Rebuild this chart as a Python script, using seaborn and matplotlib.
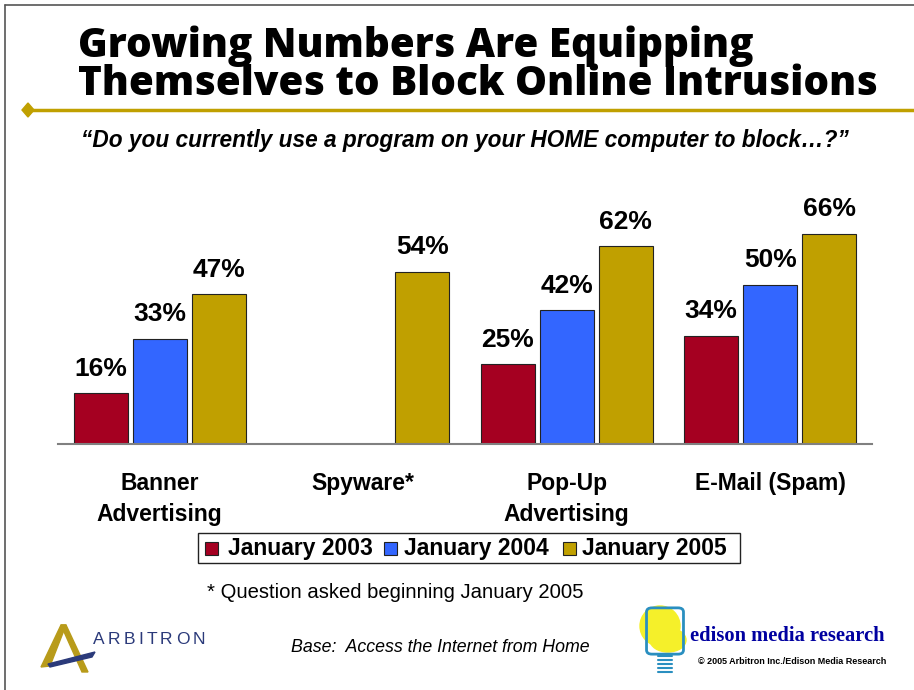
import matplotlib
matplotlib.use("Agg")
import matplotlib.pyplot as plt
from matplotlib.patches import Polygon, Ellipse, FancyBboxPatch, Rectangle
from matplotlib.lines import Line2D
import seaborn as sns
import pandas as pd

# ---- data ----
categories = ["Banner\nAdvertising", "Spyware*", "Pop-Up\nAdvertising", "E-Mail (Spam)"]
series = ["January 2003", "January 2004", "January 2005"]
jan_2003 = [16, None, 25, 34]
jan_2004 = [33, None, 42, 50]
jan_2005 = [47, 54, 62, 66]
colors = ["#A50021", "#3366FF", "#C0A000"]

rows = []
for name, vals in zip(series, [jan_2003, jan_2004, jan_2005]):
    for cat, v in zip(categories, vals):
        if v is not None:
            rows.append({"category": cat, "wave": name, "pct": v})
df = pd.DataFrame(rows)

sns.set_theme(style="white")
plt.rcParams["font.family"] = ["Liberation Sans", "DejaVu Sans"]
plt.rcParams["text.color"] = "black"
plt.rcParams["xtick.color"] = "black"

W, H = 914, 690
fig = plt.figure(figsize=(W / 100, H / 100), dpi=100)
fig.patch.set_facecolor("white")
renderer = fig.canvas.get_renderer()

def fx(px):
    return px / W

def fy(py):
    return 1 - py / H

# ---- bars ----
ax = fig.add_axes([fx(58), fy(444), fx(872) - fx(58), 255 / H])
sns.barplot(data=df, x="category", y="pct", hue="wave", order=categories,
            hue_order=series, palette=colors, saturation=1, width=0.87, gap=0.085,
            edgecolor="#222222", linewidth=0.8, errorbar=None, legend=False, ax=ax)
ax.set_xlim(-0.5, 3.5)
ax.set_ylim(0, 80)
ax.set_xlabel("")
ax.set_ylabel("")
ax.set_yticks([])
ax.tick_params(axis="x", length=0, pad=20)
for lbl in ax.get_xticklabels():
    lbl.set_fontsize(16.5)
    lbl.set_fontweight("bold")
    lbl.set_linespacing(1.45)
    lbl.set_verticalalignment("top")
    lbl.set_color("black")
for s in ["top", "right", "left"]:
    ax.spines[s].set_visible(False)
ax.spines["bottom"].set_color("#808080")
ax.spines["bottom"].set_linewidth(1.5)

for cont in ax.containers:
    ax.bar_label(cont, labels=[f"{int(v)}%" for v in cont.datavalues],
                 padding=9, fontsize=19, fontweight="bold", color="black")

# ---- frame border (left and top) ----
fig.add_artist(Line2D([fx(5), fx(5)], [fy(5), 0], color="#555555", lw=1.2))
fig.add_artist(Line2D([fx(5), 1], [fy(5), fy(5)], color="#555555", lw=1.2))

# ---- title, sized so the long line spans most of the slide ----
title_font = ["Open Sans", "Liberation Sans"]
probe = fig.text(0, 0, "Themselves to Block Online Intrusions", fontsize=30,
                 fontweight=800, family=title_font)
wpx = probe.get_window_extent(renderer).width
probe.remove()
tsize = 30 * 800 / wpx
fig.text(fx(78), fy(95),
         "Growing Numbers Are Equipping\nThemselves to Block Online Intrusions",
         fontsize=tsize, fontweight=800, family=title_font, linespacing=0.89,
         va="baseline", ha="left", color="black")

# gold rule with diamond
fig.add_artist(Line2D([fx(28), 1], [fy(110), fy(110)], color="#C0A000", lw=2.5))
fig.add_artist(Polygon([[fx(22), fy(110)], [fx(28), fy(103)], [fx(34), fy(110)],
                        [fx(28), fy(117)]], closed=True, color="#C0A000",
                       transform=fig.transFigure))

# subtitle
fig.text(fx(465), fy(141), "\u201cDo you currently use a program on your HOME computer to block\u2026?\u201d",
         fontsize=16.3, fontweight="bold", style="italic", ha="center", va="center")

# ---- legend ----
fig.add_artist(Rectangle((fx(198), fy(563)), fx(740) - fx(198), (563 - 533) / H,
                         transform=fig.transFigure, fill=False, edgecolor="#222222", lw=1))
leg_marker_x = [205, 384, 563]
leg_text_x = [228, 404, 582]
for x0, xt, name, c in zip(leg_marker_x, leg_text_x, series, colors):
    fig.add_artist(Rectangle((fx(x0), fy(555)), 13 / W, 13 / H,
                             transform=fig.transFigure, facecolor=c,
                             edgecolor="#222222", lw=0.8))
    fig.text(fx(xt), fy(548), name, fontsize=16.5, fontweight="bold",
             ha="left", va="center")

# footnotes
fig.text(fx(207), fy(592), "* Question asked beginning January 2005",
         fontsize=14.6, ha="left", va="center")
fig.text(fx(291), fy(648), "Base:  Access the Internet from Home",
         fontsize=12.8, style="italic", ha="left", va="center")

# ---- Arbitron logo ----
fig.add_artist(Polygon([[fx(41), fy(667)], [fx(61), fy(625)], [fx(66), fy(625)],
                        [fx(50), fy(666)]], closed=True, color="#B89B1A",
                       transform=fig.transFigure))
fig.add_artist(Polygon([[fx(61), fy(625)], [fx(66), fy(625)], [fx(88), fy(672)],
                        [fx(82), fy(672)]], closed=True, color="#B89B1A",
                       transform=fig.transFigure))
fig.add_artist(Polygon([[fx(48), fy(664)], [fx(95), fy(652)], [fx(92), fy(657)],
                        [fx(50), fy(667)]], closed=True, color="#2B3A7A",
                       transform=fig.transFigure))
# evenly letter-spaced wordmark
letters = "ARBITRON"
widths = []
for ch in letters:
    t = fig.text(0, 0, ch, fontsize=12.5)
    widths.append(t.get_window_extent(renderer).width)
    t.remove()
gap = (112 - sum(widths)) / (len(letters) - 1)
xpos = 93
for ch, w in zip(letters, widths):
    fig.text(fx(xpos), fy(640), ch, fontsize=12.5, color="#2B3A7A",
             ha="left", va="center")
    xpos += w + gap

# ---- Edison logo ----
fig.add_artist(Ellipse((fx(660), fy(626)), 40 / W, 40 / H, color="#F5F02A",
                       transform=fig.transFigure))
fig.add_artist(Ellipse((fx(668), fy(640)), 36 / W, 24 / H, color="#F5F02A",
                       transform=fig.transFigure))
fig.add_artist(FancyBboxPatch((fx(652), fy(650)), 26 / W, 38 / H,
                              boxstyle="round,pad=0.006", fill=False,
                              edgecolor="#2A8FC0", lw=2, transform=fig.transFigure))
for k in range(5):
    fig.add_artist(Line2D([fx(658), fx(672)], [fy(656 + k * 4), fy(656 + k * 4)],
                          color="#2A8FC0", lw=1.5))
fig.text(fx(690), fy(636), "edison media research", fontsize=14.8,
         fontweight="bold", family=["Liberation Serif", "DejaVu Serif"],
         color="#0000A0", ha="left", va="center")
fig.text(fx(698), fy(662), "\u00a9 2005 Arbitron Inc./Edison Media Research",
         fontsize=6.5, fontweight="bold", ha="left", va="center")

fig.savefig("out.png", dpi=100)
